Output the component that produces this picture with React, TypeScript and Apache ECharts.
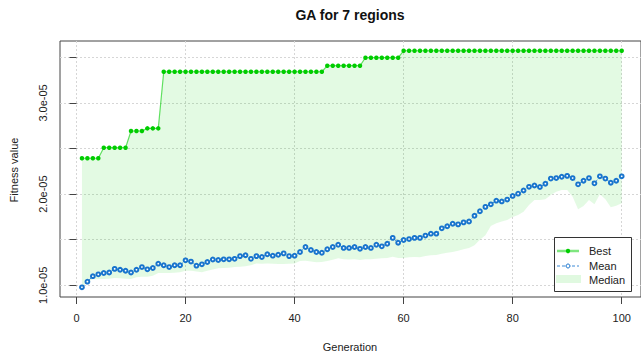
import React, { useEffect, useRef } from "react";
import * as echarts from "echarts";

// Generation index (x axis)
const generations: number[] = Array.from({ length: 100 }, (_, i) => i + 1);

// Values in units of 1e-05
const bestE5: number[] = [
  2.393, 2.393, 2.393, 2.393,
  2.509, 2.509, 2.509, 2.509, 2.509,
  2.692, 2.692, 2.692,
  2.721, 2.721, 2.721,
  3.342, 3.342, 3.342, 3.342, 3.342, 3.342, 3.342, 3.342, 3.342, 3.342,
  3.342, 3.342, 3.342, 3.342, 3.342, 3.342, 3.342, 3.342, 3.342, 3.342,
  3.342, 3.342, 3.342, 3.342, 3.342, 3.342, 3.342, 3.342, 3.342, 3.342,
  3.408, 3.408, 3.408, 3.408, 3.408, 3.408, 3.408,
  3.496, 3.496, 3.496, 3.496, 3.496, 3.496, 3.496,
  3.572, 3.572, 3.572, 3.572, 3.572, 3.572, 3.572, 3.572, 3.572, 3.572,
  3.572, 3.572, 3.572, 3.572, 3.572, 3.572, 3.572, 3.572, 3.572, 3.572,
  3.572, 3.572, 3.572, 3.572, 3.572, 3.572, 3.572, 3.572, 3.572, 3.572,
  3.572, 3.572, 3.572, 3.572, 3.572, 3.572, 3.572, 3.572, 3.572, 3.572,
  3.572,
];

const meanE5: number[] = [
  0.978, 1.04, 1.1, 1.12, 1.135, 1.14, 1.18, 1.17, 1.16, 1.14,
  1.17, 1.2, 1.175, 1.19, 1.237, 1.22, 1.2, 1.22, 1.22, 1.274,
  1.26, 1.215, 1.23, 1.255, 1.283, 1.277, 1.285, 1.285, 1.29, 1.32,
  1.33, 1.29, 1.32, 1.31, 1.34, 1.325, 1.335, 1.35, 1.32, 1.325,
  1.365, 1.42, 1.387, 1.365, 1.357, 1.395, 1.42, 1.445, 1.41, 1.41,
  1.42, 1.4, 1.42, 1.41, 1.445, 1.427, 1.456, 1.52, 1.467, 1.497,
  1.507, 1.52, 1.52, 1.545, 1.566, 1.566, 1.625, 1.647, 1.675, 1.668,
  1.69, 1.7, 1.763, 1.812, 1.86, 1.888, 1.928, 1.92, 1.94, 1.98,
  2.005, 2.04, 2.08, 2.095, 2.078, 2.114, 2.17, 2.176, 2.19, 2.2,
  2.176, 2.107, 2.147, 2.176, 2.118, 2.195, 2.17, 2.125, 2.147, 2.195,
];

const medianE5: number[] = [
  0.978, 1.036, 1.066, 1.07, 1.07, 1.073, 1.08, 1.076, 1.073, 1.07,
  1.088, 1.095, 1.095, 1.105, 1.135, 1.135, 1.135, 1.138, 1.142, 1.16,
  1.16, 1.15, 1.142, 1.16, 1.172, 1.186, 1.19, 1.193, 1.2, 1.204,
  1.21, 1.22, 1.24, 1.237, 1.24, 1.237, 1.233, 1.233, 1.237, 1.24,
  1.266, 1.27, 1.26, 1.252, 1.255, 1.266, 1.28, 1.296, 1.285, 1.283,
  1.285, 1.277, 1.285, 1.285, 1.29, 1.296, 1.3, 1.314, 1.3, 1.3,
  1.307, 1.31, 1.307, 1.32, 1.33, 1.332, 1.346, 1.357, 1.365, 1.38,
  1.395, 1.41, 1.44, 1.5, 1.55, 1.65, 1.68, 1.7, 1.716, 1.75,
  1.77, 1.807, 1.88, 1.935, 1.935, 1.943, 1.99, 2.026, 2.045, 2.045,
  1.97, 1.833, 1.87, 1.935, 1.89, 1.998, 1.943, 1.855, 1.873, 1.9,
];

const xTicks: number[] = [0, 20, 40, 60, 80, 100];
const yTicks: number[] = [1e-5, 1.5e-5, 2e-5, 2.5e-5, 3e-5, 3.5e-5];
const yLabels: number[] = [1e-5, 2e-5, 3e-5];

const titleText = "GA for 7 regions";
const xName = "Generation";
const yName = "Fitness value";
const legendNames = ["Best", "Mean", "Median"];

const FONT = "'Liberation Sans', Arial, Helvetica, sans-serif";
const SCALE = 1e-5;

export default function App() {
  const ref = useRef<HTMLDivElement>(null);

  useEffect(() => {
    if (!ref.current) return;
    const chart = echarts.init(ref.current, undefined, { renderer: "svg" });

    const bestData = generations.map((g, i) => [g, bestE5[i] * SCALE]);
    const meanData = generations.map((g, i) => [g, meanE5[i] * SCALE]);

    const option: any = {
      animation: false,
      backgroundColor: "#ffffff",
      grid: {
        left: 60,
        top: 41,
        right: 0,
        bottom: 63,
        show: true,
        borderColor: "#444",
        borderWidth: 1,
        backgroundColor: "transparent",
      },
      xAxis: {
        type: "value",
        min: -3.026,
        max: 103.54,
        axisLine: { show: false },
        axisTick: {
          show: true,
          length: 7,
          customValues: xTicks,
          lineStyle: { color: "#444" },
        },
        axisLabel: {
          customValues: xTicks,
          margin: 15,
          fontSize: 11,
          color: "#222",
          fontFamily: FONT,
          formatter: (v: number) => String(v),
        },
        splitLine: {
          show: true,
          lineStyle: { color: "#d6d6d6", type: [2, 2], width: 1 },
        },
      },
      yAxis: {
        type: "value",
        min: 0.8717e-5,
        max: 3.679e-5,
        axisLine: { show: false },
        axisTick: {
          show: true,
          length: 7,
          customValues: yTicks,
          lineStyle: { color: "#444" },
        },
        axisLabel: {
          customValues: yLabels,
          rotate: 90,
          margin: 12,
          fontSize: 11,
          color: "#222",
          fontFamily: FONT,
          formatter: (v: number) => (v / SCALE).toFixed(1) + "e-05",
        },
        splitLine: {
          show: true,
          lineStyle: { color: "#d6d6d6", type: [2, 2], width: 1 },
        },
      },
      series: [
        {
          type: "custom",
          name: "Median",
          silent: true,
          z: 1,
          data: [[generations[0], medianE5[0] * SCALE]],
          renderItem: (_params: any, api: any) => {
            const top = generations.map((g, i) => api.coord([g, bestE5[i] * SCALE]));
            const bottom = generations
              .map((g, i) => api.coord([g, medianE5[i] * SCALE]))
              .reverse();
            return {
              type: "polygon",
              shape: { points: top.concat(bottom) },
              style: { fill: "rgba(0,205,0,0.11)", stroke: "none" },
            };
          },
        },
        {
          type: "line",
          name: "Best",
          data: bestData,
          symbol: "circle",
          symbolSize: 4.5,
          z: 3,
          itemStyle: { color: "#00CD00" },
          lineStyle: { color: "rgba(0,205,0,0.6)", width: 1.2 },
        },
        {
          type: "line",
          name: "Mean",
          data: meanData,
          symbol: "emptyCircle",
          symbolSize: 3.8,
          z: 4,
          itemStyle: {
            color: "#1874CD",
            borderColor: "#2a7fd0",
            borderWidth: 1,
          },
          lineStyle: { color: "#4a94d8", width: 1, type: [3, 2] },
        },
      ],
      graphic: [
        {
          type: "text",
          x: 350,
          y: 15,
          z: 100,
          style: {
            text: titleText,
            font: `bold 14px ${FONT}`,
            fill: "#111",
            textAlign: "center",
            textVerticalAlign: "middle",
          },
        },
        {
          type: "text",
          x: 350,
          y: 347,
          z: 100,
          style: {
            text: xName,
            font: `11px ${FONT}`,
            fill: "#222",
            textAlign: "center",
            textVerticalAlign: "middle",
          },
        },
        {
          type: "text",
          x: 14,
          y: 170,
          rotation: Math.PI / 2,
          z: 100,
          style: {
            text: yName,
            font: `11px ${FONT}`,
            fill: "#222",
            textAlign: "center",
            textVerticalAlign: "middle",
          },
        },
        {
          type: "rect",
          z: 100,
          shape: { x: 554.5, y: 237.5, width: 77, height: 54 },
          style: { fill: "#fff", stroke: "#333", lineWidth: 1 },
        },
        {
          type: "line",
          z: 101,
          shape: { x1: 557, y1: 251, x2: 579, y2: 251 },
          style: { stroke: "rgba(0,205,0,0.5)", lineWidth: 2.5 },
        },
        {
          type: "circle",
          z: 102,
          shape: { cx: 568, cy: 251, r: 2.2 },
          style: { fill: "#00CD00" },
        },
        {
          type: "line",
          z: 101,
          shape: { x1: 557, y1: 266, x2: 579, y2: 266 },
          style: { stroke: "#3d8ad6", lineWidth: 1, lineDash: [3, 2] },
        },
        {
          type: "circle",
          z: 102,
          shape: { cx: 568, cy: 266, r: 2 },
          style: { fill: "#fff", stroke: "#1874CD", lineWidth: 1 },
        },
        {
          type: "rect",
          z: 101,
          shape: { x: 556, y: 275, width: 25, height: 8 },
          style: { fill: "rgba(0,205,0,0.12)" },
        },
        ...legendNames.map((n, i) => ({
          type: "text",
          x: 589,
          y: [251, 266, 279.5][i],
          z: 102,
          style: {
            text: n,
            font: `11px ${FONT}`,
            fill: "#222",
            textAlign: "left",
            textVerticalAlign: "middle",
          },
        })),
      ],
    };

    chart.setOption(option);
    return () => chart.dispose();
  }, []);

  return (
    <div
      ref={ref}
      style={{ position: "fixed", left: 0, top: 0, width: 641, height: 360 }}
    />
  );
}
